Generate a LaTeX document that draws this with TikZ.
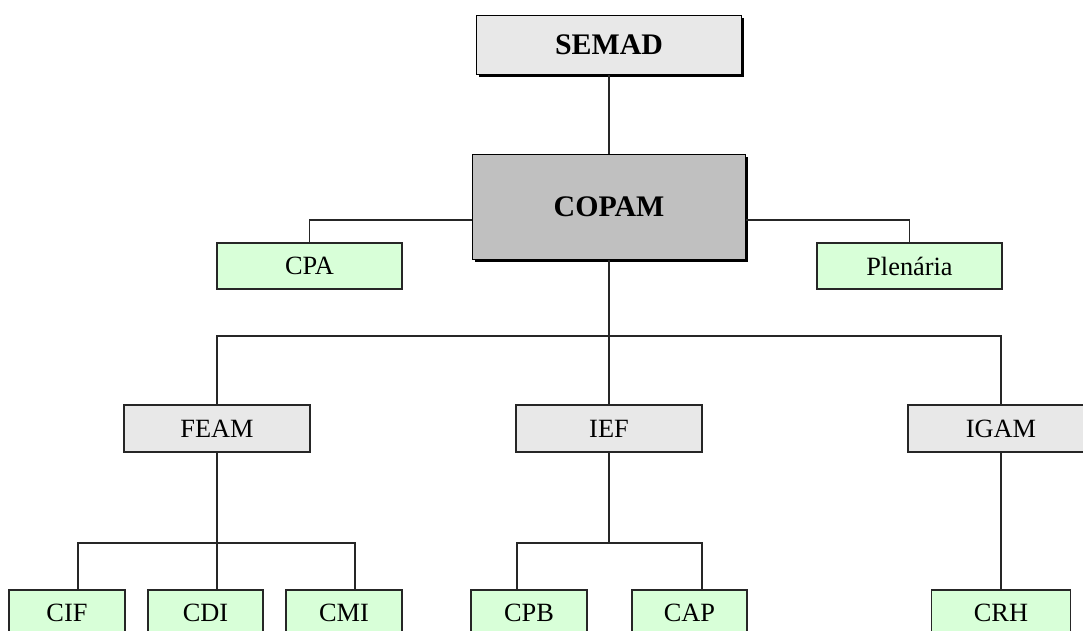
\documentclass[tikz,border=0pt]{standalone}
\usepackage{fontspec}
\setmainfont{Liberation Serif}
\usetikzlibrary{shadows}
\definecolor{boxgray}{RGB}{232,232,232}
\definecolor{copamgray}{RGB}{192,192,192}
\definecolor{boxgreen}{RGB}{216,255,216}
\tikzset{
  unit/.style={draw=black!85, line width=0.9pt, inner sep=0pt, font=\fontsize{15}{18}\selectfont},
  graybox/.style={unit, fill=boxgray, minimum width=3.72cm, minimum height=0.94cm},
  greenbox/.style={unit, fill=boxgreen, minimum height=0.92cm},
  headbox/.style={unit, draw=black, font=\fontsize{17}{20}\selectfont\bfseries,
    drop shadow={shadow xshift=0.05cm, shadow yshift=-0.05cm, fill=black, opacity=1}},
  link/.style={line width=0.9pt, draw=black!85}
}

\begin{document}
\begin{tikzpicture}[x=0.02cm, y=-0.02cm]
        \useasboundingbox (0,0) rectangle (1083,630);
        \clip (0,0) rectangle (1083,630);
        % top of the chart
        \node[headbox, fill=boxgray, minimum width=5.3cm, minimum height=1.18cm] (semad) at (609,45) {SEMAD};
        \node[headbox, fill=copamgray, minimum width=5.46cm, minimum height=2.1cm] (copam) at (609,207) {COPAM};
        \node[greenbox, minimum width=3.7cm] (cpa) at (309.5,266) {CPA};
        \node[greenbox, minimum width=3.7cm] (plenaria) at (909.5,266) {Plenária};
        % second level
        \node[graybox] (feam) at (217,428.5) {FEAM};
        \node[graybox] (ief) at (609,428.5) {IEF};
        \node[graybox] (igam) at (1001,428.5) {IGAM};
        % third level
        \node[greenbox, minimum width=2.32cm] (cif) at (67,613) {CIF};
        \node[greenbox, minimum width=2.3cm] (cdi) at (205.5,613) {CDI};
        \node[greenbox, minimum width=2.32cm] (cmi) at (344,613) {CMI};
        \node[greenbox, minimum width=2.32cm] (cpb) at (529,613) {CPB};
        \node[greenbox, minimum width=2.3cm] (cap) at (689.5,613) {CAP};
        \node[greenbox, minimum width=2.78cm] (crh) at (1001,613) {CRH};
        \coordinate (sidebar) at (0,220);
        \coordinate (mainbar) at (0,336);
        \coordinate (subbar) at (0,543);
        \coordinate (cifdrop) at ([xshift=0.22cm]cif.north);
        \coordinate (cdidrop) at ([xshift=0.23cm]cdi.north);
        \coordinate (cmidrop) at ([xshift=0.22cm]cmi.north);
        \coordinate (cpbdrop) at ([xshift=-0.24cm]cpb.north);
        \coordinate (capdrop) at ([xshift=0.25cm]cap.north);
        % connectors
        \draw[link] (semad.south) -- (semad.south |- copam.north);
        \draw[link] (copam.west |- sidebar) -| (cpa.north);
        \draw[link] (copam.east |- sidebar) -| (plenaria.north);
        \draw[link] (copam.south) -- (ief.north);
        \draw[link] (feam.north) |- (copam.south |- mainbar) -| (igam.north);
        \draw[link] (feam.south) -- (cdidrop);
        \draw[link] (cifdrop) |- (cmidrop |- subbar) -- (cmidrop);
        \draw[link] (ief.south) -- (ief.south |- subbar);
        \draw[link] (cpbdrop) |- (capdrop |- subbar) -- (capdrop);
        \draw[link] (igam.south) -- (crh.north);
    \end{tikzpicture}
\end{document}
